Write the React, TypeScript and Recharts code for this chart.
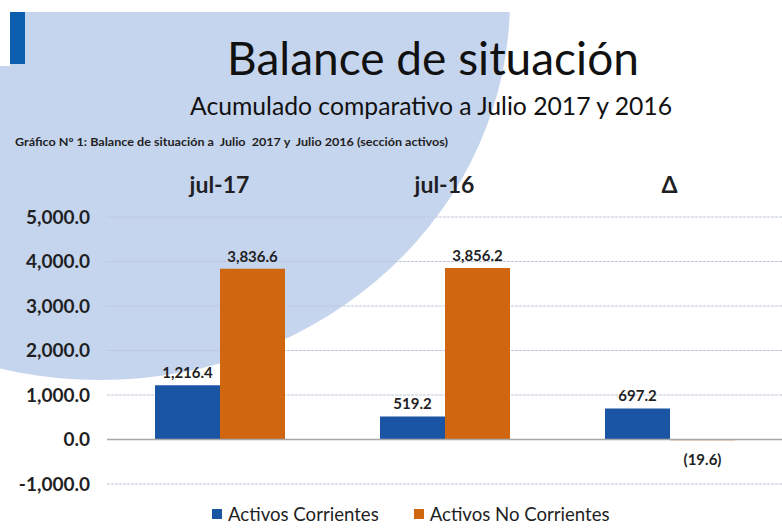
import React from "react";
import {
  BarChart,
  Bar,
  XAxis,
  YAxis,
  CartesianGrid,
  ReferenceLine,
  Legend,
  LabelList,
} from "recharts";

const categories = ["jul-17", "jul-16", "Δ"];
const activosCorrientes = [1216.4, 519.2, 697.2];
const activosNoCorrientes = [3836.6, 3856.2, -19.6];
const yTicks = [-1000, 0, 1000, 2000, 3000, 4000, 5000];

const data = categories.map((c, i) => ({
  cat: c,
  ac: activosCorrientes[i],
  anc: activosNoCorrientes[i],
}));

const FONT = "Lato, 'Open Sans', 'DejaVu Sans', sans-serif";
const BLUE = "#1a55a4";
const ORANGE = "#d0660f";
const TEXT = "#1f1f24";

const fmt = (v: number) =>
  Math.abs(v).toLocaleString("en-US", {
    minimumFractionDigits: 1,
    maximumFractionDigits: 1,
  });
const fmtLabel = (v: number) => (v < 0 ? `(${fmt(v)})` : fmt(v));
const fmtTick = (v: number) => (v < 0 ? "-" : "") + fmt(v);

const ValueLabel = (props: any) => {
  const { x, y, width, height, value } = props;
  const top = Math.min(y, y + height);
  const bottom = Math.max(y, y + height);
  const cx = x + width / 2;
  const ty = value < 0 ? bottom + 25 : top - 7;
  return (
    <text
      x={cx}
      y={ty}
      textAnchor="middle"
      fontFamily={FONT}
      fontWeight={700}
      fontSize={15}
      fill={TEXT}
    >
      {fmtLabel(value)}
    </text>
  );
};

const CatTick = (props: any) => {
  const { x, y, payload } = props;
  return (
    <text
      x={x}
      y={y - 24}
      textAnchor="middle"
      fontFamily={FONT}
      fontWeight={700}
      fontSize={23}
      fill={TEXT}
    >
      {payload.value}
    </text>
  );
};

const LegendContent = (props: any) => {
  const { payload } = props;
  return (
    <div style={{ display: "flex", alignItems: "center", fontFamily: FONT }}>
      {(payload || []).map((p: any, i: number) => (
        <div
          key={i}
          style={{
            display: "flex",
            alignItems: "center",
            marginRight: i === 0 ? 35 : 0,
          }}
        >
          <span
            style={{
              display: "inline-block",
              width: 10,
              height: 10,
              background: p.color,
              marginRight: 6,
            }}
          />
          <span style={{ fontSize: 18.6, color: TEXT, lineHeight: "20px" }}>
            {p.value}
          </span>
        </div>
      ))}
    </div>
  );
};

export default function App() {
  return (
    <div
      style={{
        position: "absolute",
        left: 0,
        top: 0,
        width: 782,
        height: 528,
        overflow: "hidden",
        background: "#ffffff",
      }}
    >
      <svg
        width={782}
        height={528}
        style={{ position: "absolute", left: 0, top: 0 }}
      >
        <defs>
          <clipPath id="bgclip">
            <rect x={0} y={12} width={782} height={516} />
          </clipPath>
        </defs>
        <ellipse
          cx={100}
          cy={0}
          rx={410}
          ry={380}
          fill="#c6d5ee"
          clipPath="url(#bgclip)"
        />
        <rect x={0} y={12} width={10} height={54} fill="#ffffff" />
        <rect x={10} y={12} width={15} height={52} fill="#0c5fae" />
        <text
          x={433}
          y={75}
          textAnchor="middle"
          fontFamily={FONT}
          fontSize={46}
          fill="#111"
        >
          Balance de situación
        </text>
        <text
          x={431}
          y={115}
          textAnchor="middle"
          fontFamily={FONT}
          fontSize={24.5}
          fill="#111"
          textLength={482}
          lengthAdjust="spacingAndGlyphs"
        >
          Acumulado comparativo a Julio 2017 y 2016
        </text>
        <text
          x={15}
          y={146}
          fontFamily={FONT}
          fontWeight={700}
          fontSize={11.5}
          fill={TEXT}
          textLength={433}
          lengthAdjust="spacingAndGlyphs"
          style={{ whiteSpace: "pre" }}
        >
          Gráfico Nº 1: Balance de situación a  Julio  2017 y  Julio 2016 (sección activos)
        </text>
      </svg>
      <div style={{ position: "absolute", left: 0, top: 0 }}>
        <BarChart
          width={782}
          height={528}
          data={data}
          margin={{ top: 177, right: 0, bottom: 44, left: 7 }}
          barGap={0}
          barSize={65}
        >
          <CartesianGrid
            horizontal={true}
            vertical={false}
            stroke="#bcc6d8"
            strokeDasharray="3 1"
          />
          <XAxis
            dataKey="cat"
            orientation="top"
            height={40}
            axisLine={false}
            tickLine={false}
            tickSize={0}
            tickMargin={0}
            tick={<CatTick />}
            interval={0}
          />
          <YAxis
            width={100}
            domain={[-1000, 5000]}
            ticks={yTicks}
            tickFormatter={fmtTick}
            axisLine={false}
            tickLine={false}
            tickSize={0}
            tickMargin={17}
            interval={0}
            tick={{
              fontFamily: FONT,
              fontWeight: 700,
              fontSize: 19,
              fill: TEXT,
            }}
          />
          <ReferenceLine y={0} stroke="#a8a8a8" strokeWidth={1.5} />
          <Legend
            verticalAlign="middle"
            align="center"
            layout="horizontal"
            wrapperStyle={{ left: 212, top: 504, width: 500 }}
            content={<LegendContent />}
          />
          <Bar
            dataKey="ac"
            name="Activos Corrientes"
            fill={BLUE}
            isAnimationActive={false}
          >
            <LabelList dataKey="ac" content={<ValueLabel />} />
          </Bar>
          <Bar
            dataKey="anc"
            name="Activos No Corrientes"
            fill={ORANGE}
            isAnimationActive={false}
          >
            <LabelList dataKey="anc" content={<ValueLabel />} />
          </Bar>
        </BarChart>
      </div>
    </div>
  );
}
